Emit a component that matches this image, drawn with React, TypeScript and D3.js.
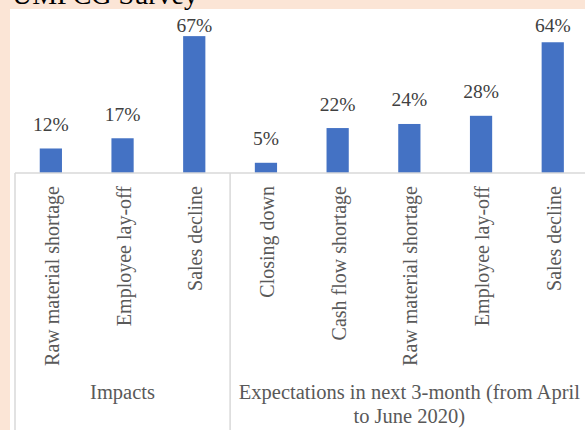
import React from "react";
import * as d3 from "d3";

const categories = [
  "Raw material shortage",
  "Employee lay-off",
  "Sales decline",
  "Closing down",
  "Cash flow shortage",
  "Raw material shortage",
  "Employee lay-off",
  "Sales decline",
];
const values = [12, 17, 67, 5, 22, 24, 28, 64];
const groups = [
  { name: ["Impacts"], start: 0, end: 3 },
  { name: ["Expectations in next 3-month (from April", "to June 2020)"], start: 3, end: 8 },
];
const title = "UMPCG Survey";

const W = 585;
const H = 430;
const FONT = "'Liberation Serif', 'Times New Roman', serif";
const TEXT = "#595959";
const GRID = "#d9d9d9";

export default function App() {
  const idx = values.map((_, i) => i);
  const x = d3
    .scaleBand<number>()
    .domain(idx)
    .range([15, 588.6])
    .paddingInner(0.69)
    .paddingOuter(0.345);
  const y = d3.scaleLinear().domain([0, 70]).range([173, 30]);
  const step = x.step();
  const left = 15;
  const edge = (i: number) => left + i * step;
  const axisY = y(0);

  return (
    <svg
      width={W}
      height={H}
      style={{ position: "absolute", left: 0, top: 0, display: "block" }}
    >
      <rect x={0} y={0} width={W} height={H} fill="#fbe5d6" />
      <rect x={10} y={9} width={W - 10} height={H - 9} fill="#ffffff" />
      <text x={12} y={4} fontFamily={FONT} fontSize={28} fill="#000">
        {title}
      </text>
      {values.map((v, i) => (
        <rect
          key={"b" + i}
          x={x(i)}
          y={y(v)}
          width={x.bandwidth()}
          height={axisY - y(v)}
          fill="#4472c4"
        />
      ))}
      {values.map((v, i) => (
        <text
          key={"v" + i}
          x={(x(i) as number) + x.bandwidth() / 2}
          y={Math.max(y(v) - 17.5, 32)}
          textAnchor="middle"
          fontFamily={FONT}
          fontSize={19.5}
          fill="#404040"
        >
          {v + "%"}
        </text>
      ))}
      <line x1={left} x2={W} y1={axisY} y2={axisY} stroke={GRID} strokeWidth={1.5} />
      {[0, 3, 8].map((i) => (
        <line
          key={"d" + i}
          x1={edge(i)}
          x2={edge(i)}
          y1={axisY}
          y2={H}
          stroke={GRID}
          strokeWidth={1.5}
        />
      ))}
      {categories.map((c, i) => {
        const cx = (x(i) as number) + x.bandwidth() / 2;
        return (
          <text
            key={"c" + i}
            transform={`translate(${cx + 8},186) rotate(-90)`}
            textAnchor="end"
            fontFamily={FONT}
            fontSize={20}
            fill={TEXT}
          >
            {c}
          </text>
        );
      })}
      {groups.map((g, gi) => {
        const cx = (edge(g.start) + edge(g.end)) / 2;
        return (
          <text
            key={"g" + gi}
            textAnchor="middle"
            fontFamily={FONT}
            fontSize={20.5}
            fill={TEXT}
          >
            {g.name.map((line, li) => (
              <tspan key={li} x={cx} y={399 + li * 24}>
                {line}
              </tspan>
            ))}
          </text>
        );
      })}
    </svg>
  );
}
